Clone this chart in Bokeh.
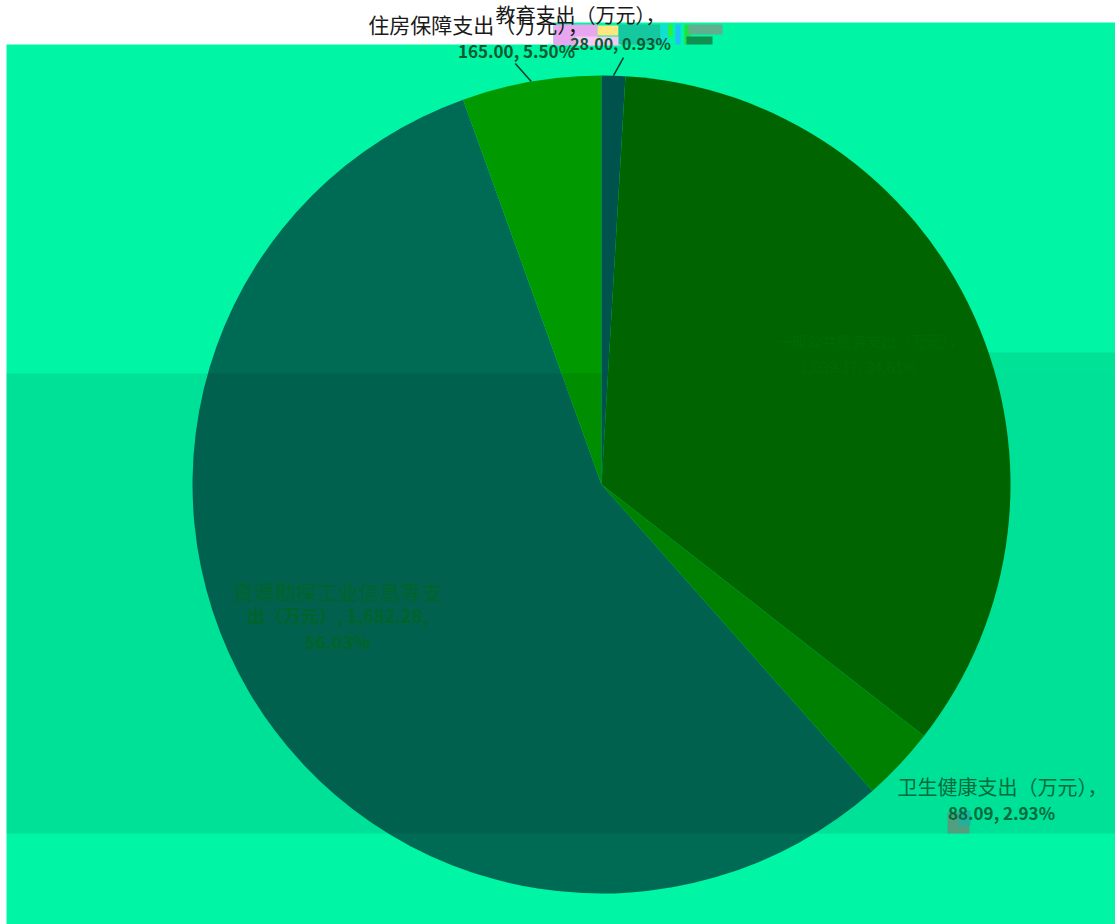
from math import pi, sin, cos
from bokeh.plotting import figure
from bokeh.embed import file_html
from bokeh.resources import INLINE
from bokeh.core.properties import value

# ---- data (clockwise from 12 o'clock)
categories = ["教育支出（万元）", "一般公共服务支出（万元）", "卫生健康支出（万元）", "资源勘探工业信息等支出（万元）", "住房保障支出（万元）"]
amounts = [28.00, 1039.17, 88.09, 1682.28, 165.00]
percent_labels = ["0.93%", "34.61%", "2.93%", "56.03%", "5.50%"]
slice_colors = ["#00524C", "#006400", "#008000", "#006B55", "#009900"]

W, H = 1115, 924
CX, CY, R = 601, 484, 409
def Y(py):
    return H - py

p = figure(width=W, height=H, x_range=(0, W), y_range=(0, H),
           output_backend="svg", toolbar_location=None,
           min_border=0, outline_line_color=None, background_fill_color="#FFFFFF",
           border_fill_color="#FFFFFF")
p.axis.visible = False
p.grid.visible = False

# background panels
BG = "#00F5A5"
p.quad(left=[6], right=[W], top=[Y(44)], bottom=[0], fill_color=BG, line_color=None)
p.quad(left=[553], right=[W], top=[Y(22)], bottom=[Y(45)], fill_color=BG, line_color=None)
p.quad(left=[601], right=[W], top=[Y(352)], bottom=[Y(373)], fill_color="#00E296", line_color=None)

# pie: angles accumulate clockwise from 12 o'clock
total = sum(amounts)
sweeps = [a / total * 2 * pi for a in amounts]
starts = [sum(sweeps[:i]) for i in range(len(sweeps))]
mids = [s + w / 2 for s, w in zip(starts, sweeps)]

def slice_(i):
    p.wedge(x=[CX], y=[Y(CY)], radius=R, start_angle=pi/2 - starts[i], end_angle=pi/2 - starts[i] - sweeps[i],
            direction="clock", fill_color=slice_colors[i], line_color=None)

slice_(3)
slice_(4)
# translucent band sits over the left slices and the background
p.quad(left=[6], right=[W], top=[Y(373)], bottom=[Y(833)], fill_color="#000000", fill_alpha=0.08, line_color=None)
slice_(0)
slice_(1)
slice_(2)

# leader lines for the two top slices
for i, dx, dy in [(0, 10, -18), (4, -16, -18)]:
    sx = CX + R * sin(mids[i])
    sy = CY - R * cos(mids[i])
    p.line([sx, sx + dx], [Y(sy), Y(sy + dy)], line_color="#0B3B2E", line_width=1.5)

# compression blotches
blot = [(553, 597, 24, 45, "#E8A6F0"), (575, 620, 36, 45, "#F6C9F2"), (597, 618, 25, 35, "#FFE680"),
        (618, 660, 24, 44, "#14C8A0"), (660, 668, 24, 44, "#10E0D0"), (668, 672, 24, 36, "#30F030"),
        (675, 680, 24, 44, "#20C0FF"), (684, 690, 24, 44, "#20E040"), (686, 712, 36, 44, "#109050"),
        (688, 722, 24, 34, "#60B090"), (947, 969, 812, 833, "#50A080"), (958, 970, 810, 825, "#20B0A0")]
for l, r, t, b, c in blot:
    p.quad(left=[l], right=[r], top=[Y(t)], bottom=[Y(b)], fill_color=c, line_color=None)

CJK = value("Noto Sans CJK SC")
def label(x, y, s, color, size="20px", bold=False):
    p.text(x=[x], y=[Y(y)], text=[s], text_color=color, text_font=CJK, text_font_size=size,
           text_align="center", text_baseline="middle",
           text_font_style="bold" if bold else "normal")

fmt = [f"{a:,.2f}, {q}" for a, q in zip(amounts, percent_labels)]
# housing
label(478, 23, categories[4] + "，", "#1A1A1A", size="21px")
label(516, 50, fmt[4], "#0A5A30", size="17px", bold=True)
# education
label(580, 14, categories[0] + "，", "#1A1A1A")
label(620, 42, fmt[0], "#0A5A30", size="16px", bold=True)
# general services (nearly invisible against slice)
label(870, 340, categories[1] + "，", "#006A06", size="15px")
label(858, 366, fmt[1], "#006A06", size="15px")
# resource
label(337, 590, "资源勘探工业信息等支", "#006428", size="21px")
label(337, 614, "出（万元）, " + f"{amounts[3]:,.2f},", "#006428", size="18px", bold=True)
label(337, 640, percent_labels[3], "#006428", size="18px", bold=True)
# health
label(1002, 786, categories[2] + "，", "#006B3C")
label(1001, 812, fmt[2], "#006B3C", size="17px", bold=True)

open("out.html", "w").write(file_html(p, INLINE))
